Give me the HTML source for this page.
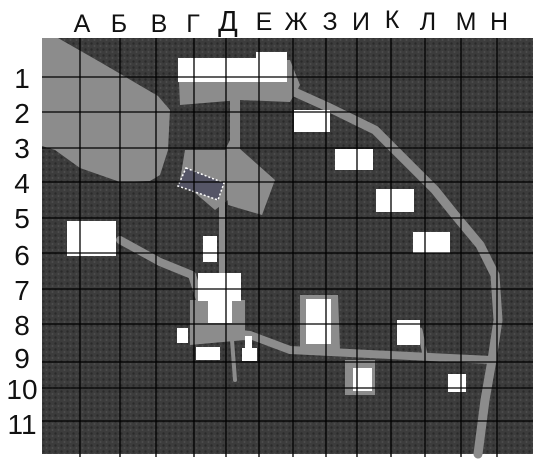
<!DOCTYPE html>
<html><head><meta charset="utf-8"><style>
body{margin:0;background:#fff;width:533px;height:463px;overflow:hidden}
svg{display:block}
text{font-family:"Liberation Sans",sans-serif;fill:#111}
</style></head><body>
<svg width="533" height="463" viewBox="0 0 533 463">
<defs>
<pattern id="tex" width="6" height="6" patternUnits="userSpaceOnUse">
<rect width="6" height="6" fill="#3c3c3c"/><circle cx="1.5" cy="1.5" r="1.2" fill="#2a2a2a"/><circle cx="4.5" cy="4" r="1" fill="#4e4e4e"/>
</pattern>
</defs>
<rect x="42" y="38" width="491" height="416" fill="url(#tex)"/>
<g fill="#8c8c8c">
<polygon points="42,38 58,38 100,62 158,96 170,110 168,150 160,175 150,181 120,182 80,168 55,150 42,146"/>
<polygon points="178,60 290,60 300,85 290,102 240,100 180,105"/>
<polygon points="230,100 240,100 240,150 230,150"/>
<polygon points="230,140 275,180 262,215 228,205 225,150"/>
<polygon points="185,150 225,150 228,200 215,210 180,180"/>
<polygon points="300,295 338,295 340,350 300,350"/>
<polygon points="345,360 375,360 375,395 345,395"/>
<polygon points="190,300 245,300 245,340 190,345"/>
</g>
<g fill="none" stroke="#8c8c8c" stroke-linecap="round" stroke-linejoin="round">
<polyline stroke-width="9" points="290,90 330,108 375,130 410,165 435,190 455,215 480,245 495,275 498,320 492,360 485,400 478,454"/>
<polyline stroke-width="8" points="120,240 160,262 192,275 200,300 205,330 250,335 290,350 330,352 390,355 450,358 492,360"/>
<polyline stroke-width="6" points="222,160 222,290"/>
<polyline stroke-width="4" points="232,340 235,380"/>
<polyline stroke-width="5" points="420,330 425,355"/>
</g>
<g>
<polygon points="186,168 224,183 218,200 178,186" fill="#556" stroke="#fff" stroke-dasharray="2,2" stroke-width="1.5"/>
</g>
<g fill="#fff">
<rect x="178" y="58" width="84" height="24"/><rect x="256" y="52" width="31" height="30"/>
<rect x="294" y="110" width="36" height="22"/>
<rect x="335" y="149" width="38" height="21"/>
<rect x="376" y="189" width="38" height="23"/>
<rect x="413" y="232" width="37" height="21"/>
<rect x="67" y="221" width="49" height="35"/>
<rect x="203" y="236" width="14" height="26"/>
<rect x="198" y="273" width="43" height="28"/><rect x="208" y="300" width="24" height="23"/>
<rect x="306" y="299" width="25" height="45"/>
<rect x="397" y="320" width="23" height="25"/>
<rect x="177" y="328" width="11" height="15"/>
<rect x="196" y="347" width="24" height="13"/>
<rect x="245" y="336" width="7" height="14"/><rect x="242" y="348" width="15" height="13"/>
<rect x="353" y="368" width="19" height="23"/>
<rect x="448" y="374" width="18" height="18"/>
</g>
<g stroke="#000" stroke-width="1.3">
<line x1="80" y1="38" x2="80" y2="457"/><line x1="120" y1="38" x2="120" y2="457"/><line x1="156" y1="38" x2="156" y2="457"/><line x1="194" y1="38" x2="194" y2="457"/><line x1="226" y1="38" x2="226" y2="457"/><line x1="259" y1="38" x2="259" y2="457"/><line x1="293" y1="38" x2="293" y2="457"/><line x1="326" y1="38" x2="326" y2="457"/><line x1="357" y1="38" x2="357" y2="457"/><line x1="391" y1="38" x2="391" y2="457"/><line x1="425" y1="38" x2="425" y2="457"/><line x1="461" y1="38" x2="461" y2="457"/><line x1="497" y1="38" x2="497" y2="457"/>
<line x1="42" y1="77" x2="533" y2="77"/><line x1="42" y1="112" x2="533" y2="112"/><line x1="42" y1="148" x2="533" y2="148"/><line x1="42" y1="182" x2="533" y2="182"/><line x1="42" y1="218" x2="533" y2="218"/><line x1="42" y1="253" x2="533" y2="253"/><line x1="42" y1="289" x2="533" y2="289"/><line x1="42" y1="324" x2="533" y2="324"/><line x1="42" y1="362" x2="533" y2="362"/><line x1="42" y1="388" x2="533" y2="388"/><line x1="42" y1="421" x2="533" y2="421"/>
</g>
<g font-size="25" text-anchor="middle">
<text x="82" y="32">А</text><text x="119" y="32">Б</text><text x="159" y="32">В</text><text x="193" y="32">Г</text><text x="228" y="31" font-size="29">Д</text><text x="264" y="30">Е</text><text x="296" y="30">Ж</text><text x="330" y="30">З</text><text x="361" y="30">И</text><text x="392" y="28">К</text><text x="428" y="30">Л</text><text x="466" y="30">М</text><text x="499" y="30">Н</text>
</g>
<g font-size="28" text-anchor="middle">
<text x="22" y="88">1</text><text x="22" y="123">2</text><text x="22" y="158">3</text><text x="22" y="193">4</text><text x="22" y="228">5</text><text x="22" y="265">6</text><text x="22" y="300">7</text><text x="22" y="335">8</text><text x="22" y="368">9</text><text x="22" y="399">10</text><text x="22" y="434">11</text>
</g>
</svg>
</body></html>
